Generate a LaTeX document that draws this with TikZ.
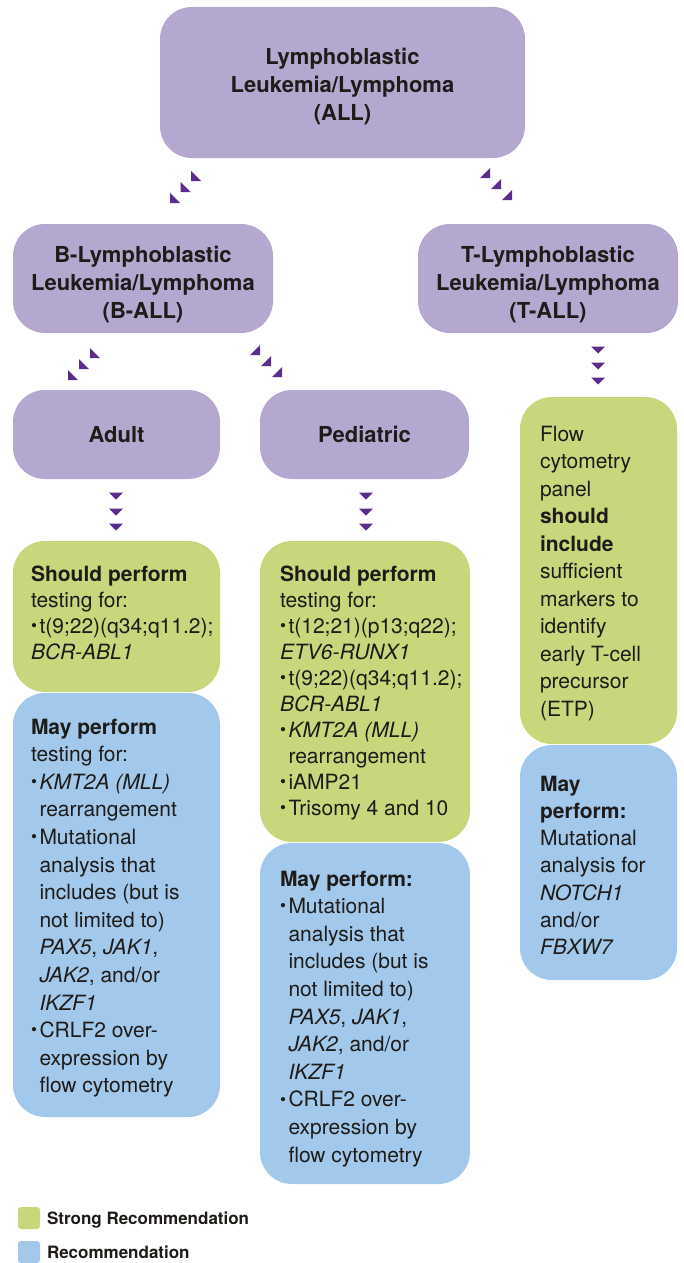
\documentclass[tikz,border=0pt]{standalone}
\usepackage{fontspec}
\setmainfont{TeX Gyre Heros}
\definecolor{boxpurple}{HTML}{B4A8D0}
\definecolor{arrowpurple}{HTML}{5A2D8C}
\definecolor{sgreen}{HTML}{C8D67C}
\definecolor{rblue}{HTML}{A2C8EB}
\definecolor{textblack}{HTML}{1E1B18}
\newcommand{\bul}{\makebox[8.5pt][l]{\raisebox{1.8pt}{\fontsize{17}{17}\selectfont\textbullet}}}
\newcommand{\ind}{\hspace*{8.5pt}}
\begin{document}
\begin{tikzpicture}[x=1pt,y=-1pt,
  every node/.style={inner sep=0pt, outer sep=0pt, text=textblack},
  purplebox/.style={fill=boxpurple, rounded corners=32pt},
  titletext/.style={align=center, font=\bfseries\fontsize{22}{28}\selectfont},
  greenbox/.style={fill=sgreen, rounded corners=32pt, anchor=north west},
  bluebox/.style={fill=rblue, rounded corners=32pt, anchor=north west},
  tighttext/.style={anchor=north west, align=left, font=\fontsize{21}{26}\selectfont},
  loosetext/.style={anchor=north west, align=left, font=\fontsize{21}{27.5}\selectfont},
  legendtext/.style={anchor=base west, font=\bfseries\fontsize{17}{20}\selectfont},
  dlarrow/.pic={\fill[arrowpurple] (0,0) -- (0,10) -- (10,10) -- cycle;},
  drarrow/.pic={\fill[arrowpurple] (10,0) -- (10,10) -- (0,10) -- cycle;},
  dnarrow/.pic={\fill[arrowpurple] (-7,-3.5) -- (7,-3.5) -- (0,3.5) -- cycle;}
]
\useasboundingbox (0,0) rectangle (683,1263);

% purple boxes
\node[purplebox, minimum width=365pt, minimum height=151pt] (all) at (342.5,82.5) {};
\node[titletext] (alltxt) at (342.5,87) {Lymphoblastic\\Leukemia/Lymphoma\\(ALL)};
\node[purplebox, minimum width=260pt, minimum height=109pt] (ball) at (143,278.5) {};
\node[titletext] (balltxt) at (143,284.5) {B-Lymphoblastic\\Leukemia/Lymphoma\\(B-ALL)};
\node[purplebox, minimum width=260pt, minimum height=109pt] (tall) at (548,278.5) {};
\node[titletext] (talltxt) at (548,284.5) {T-Lymphoblastic\\Leukemia/Lymphoma\\(T-ALL)};
\node[purplebox, titletext, minimum width=207pt, minimum height=89pt] (adult) at (116.5,434.5) {Adult};
\node[purplebox, titletext, minimum width=209pt, minimum height=89pt] (ped) at (364.5,434.5) {Pediatric};

% arrows ALL -> B-ALL / T-ALL
\pic at (170,193) {dlarrow};
\pic at (180.5,182) {dlarrow};
\pic at (191,171) {dlarrow};
\pic at (480,168) {drarrow};
\pic at (491,179) {drarrow};
\pic at (502,190) {drarrow};
% arrows B-ALL -> Adult / Pediatric
\pic at (68,370) {dlarrow};
\pic at (79,359) {dlarrow};
\pic at (90,348) {dlarrow};
\pic at (250,345) {drarrow};
\pic at (261,356) {drarrow};
\pic at (272,367) {drarrow};
% down arrows
\foreach \yy in {350,366,381} {\pic at (598,\yy) {dnarrow};}
\foreach \yy in {496,512,527} {\pic at (116,\yy) {dnarrow};}
\foreach \yy in {496,512,527} {\pic at (366,\yy) {dnarrow};}

% Adult panels
\node[greenbox, minimum width=207pt, minimum height=151pt] (adultS) at (13,541) {};
\node[bluebox, minimum width=207pt, minimum height=424pt] (adultM) at (13,693) {};
\node[tighttext] (adultStxt) at (31,562.8) {\strut\textbf{Should perform}\\
testing for:\\
\bul t(9;22)(q34;q11.2);\\
\textit{BCR-ABL1}};
\node[anchor=north west, align=left, font=\fontsize{21}{27.6}\selectfont] (adultMtxt) at (31,714.7) {\strut\textbf{May perform}\\
testing for:\\
\bul \textit{KMT2A (MLL)}\\
\ind rearrangement\\
\bul Mutational\\
\ind analysis that\\
\ind includes (but is\\
\ind not limited to)\\
\ind \textit{PAX5}, \textit{JAK1},\\
\ind \textit{JAK2}, and/or\\
\ind \textit{IKZF1}\\
\bul CRLF2 over-\\
\ind expression by\\
\ind flow cytometry};

% Pediatric panels
\node[greenbox, minimum width=210pt, minimum height=301pt] (pedS) at (260,541) {};
\node[bluebox, minimum width=210pt, minimum height=341pt] (pedM) at (260,843) {};
\node[tighttext] (pedStxt) at (280,562.8) {\strut\textbf{Should perform}\\
testing for:\\
\bul t(12;21)(p13;q22);\\
\textit{ETV6-RUNX1}\\
\bul t(9;22)(q34;q11.2);\\
\textit{BCR-ABL1}\\
\bul \textit{KMT2A (MLL)}\\
\ind rearrangement\\
\bul iAMP21\\
\bul Trisomy 4 and 10};
\node[anchor=north west, align=left, font=\fontsize{21}{27.6}\selectfont] (pedMtxt) at (280,866.7) {\strut\textbf{May perform:}\\
\bul Mutational\\
\ind analysis that\\
\ind includes (but is\\
\ind not limited to)\\
\ind \textit{PAX5}, \textit{JAK1},\\
\ind \textit{JAK2}, and/or\\
\ind \textit{IKZF1}\\
\bul CRLF2 over-\\
\ind expression by\\
\ind flow cytometry};

% T-ALL panels
\node[greenbox, minimum width=157pt, minimum height=347pt] (tS) at (520,397) {};
\node[bluebox, minimum width=157pt, minimum height=235pt] (tM) at (520,745) {};
\node[loosetext] (tStxt) at (540,421.75) {\strut Flow\\
cytometry\\
panel\\
\textbf{should}\\
\textbf{include}\\
sufficient\\
markers to\\
identify\\
early T-cell\\
precursor\\
(ETP)};
\node[anchor=north west, align=left, font=\fontsize{21}{27.3}\selectfont] (tMtxt) at (540,771.9) {\strut\textbf{May}\\
\textbf{perform:}\\
Mutational\\
analysis for\\
\textit{NOTCH1}\\
and/or\\
\textit{FBXW7}};

% legend
\node[fill=sgreen, rounded corners=3pt, minimum size=22pt, anchor=north west] (legS) at (18,1207) {};
\node[fill=rblue, rounded corners=3pt, minimum size=22pt, anchor=north west] (legR) at (18,1241) {};
\node[legendtext] (legStxt) at (47,1224) {Strong Recommendation};
\node[legendtext] (legRtxt) at (47,1258) {Recommendation};
\end{tikzpicture}
\end{document}
